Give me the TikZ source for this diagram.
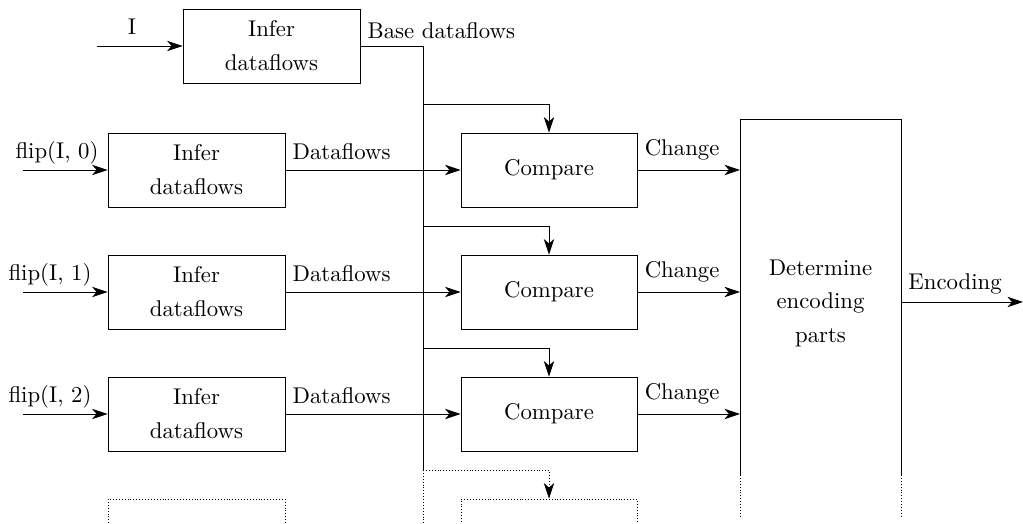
\documentclass[tikz,border=0pt]{standalone}
\usepackage{amsmath}
\usetikzlibrary{arrows.meta,positioning,calc}
\tikzstyle{infer} = [draw, shape=rectangle, minimum width=85.1pt, minimum height=35.6pt, align=center]
\tikzstyle{compare} = [draw, shape=rectangle, minimum width=84.7pt, minimum height=35.6pt]
\tikzstyle{Arrow} = [-{Stealth[length=7.5pt,width=5pt,inset=2.2pt]}]
\tikzstyle{flow} = [pos=0, above right, yshift=1.4pt]
\tikzstyle{inlabel} = [anchor=base]

\begin{document}
\begin{tikzpicture}[x=0.481pt,y=-0.481pt, every node/.style={font=\fontsize{10.95}{13.6}\selectfont}]
            \useasboundingbox (0,0) rectangle (1023,524);
            \clip (0,0) rectangle (1023,524);
            %%%%% Base dataflows %%%%%
            \node (base) [infer] at (271.5,46) {Infer\\[2.8pt]dataflows};
            \coordinate (inI) at (97,46);
            \draw [Arrow] (inI) -- (base);
            \node (lI) [inlabel] at (132,35) {I};
            \coordinate (bus) at (423,46);
            \draw (base) -- (bus) -- (bus |- 0,470);
            \node (lbase) [above right] at (base.east) {Base dataflows};
            \draw [densely dotted] (bus |- 0,470) -- (bus |- 0,530);
            %%%%% First row %%%%%
            \node (inf1) [infer] at (196.5,170) {Infer\\[2.8pt]dataflows};
            \node (cmp1) [compare] at (549,170) {Compare};
            \coordinate (in1) at (23,170);
            \draw [Arrow] (in1) -- (inf1);
            \node [inlabel] at (57,159) {flip(I, 0)};
            \draw [Arrow] (inf1) -- (cmp1) node [flow] {Dataflows};
            \draw [Arrow] (bus |- 0,104) -| (cmp1.north);
            %%%%% Second row %%%%%
            \node (inf2) [infer] at (196.5,292) {Infer\\[2.8pt]dataflows};
            \node (cmp2) [compare] at (549,292) {Compare};
            \coordinate (in2) at (23,292);
            \draw [Arrow] (in2) -- (inf2);
            \node [inlabel] at (50,281) {flip(I, 1)};
            \draw [Arrow] (inf2) -- (cmp2) node [flow] {Dataflows};
            \draw [Arrow] (bus |- 0,226) -| (cmp2.north);
            %%%%% Third row %%%%%
            \node (inf3) [infer] at (196.5,414) {Infer\\[2.8pt]dataflows};
            \node (cmp3) [compare] at (549,414) {Compare};
            \coordinate (in3) at (23,414);
            \draw [Arrow] (in3) -- (inf3);
            \node [inlabel] at (50,403) {flip(I, 2)};
            \draw [Arrow] (inf3) -- (cmp3) node [flow] {Dataflows};
            \draw [Arrow] (bus |- 0,348) -| (cmp3.north);
            %%%%% More rows %%%%%
            \node (inf4) [infer, densely dotted] at (196.5,536) {};
            \node (cmp4) [compare, densely dotted] at (549,536) {};
            \draw [Arrow, densely dotted] (bus |- 0,470) -| (cmp4.north);
            %%%%% Encoding %%%%%
            \coordinate (fl) at (740,119);
            \coordinate (fr) at (901,119);
            \draw (fl |- 0,475) -- (fl) -- (fr) -- (fr |- 0,475);
            \draw [densely dotted] (fl |- 0,475) -- (fl |- 0,517);
            \draw [densely dotted] (fr |- 0,475) -- (fr |- 0,517);
            \node (det) [align=center] at (820.5,303) {Determine\\[2.5pt]encoding\\[2.5pt]parts};
            \draw [Arrow] (cmp1) -- (cmp1 -| fl) node [flow] {Change};
            \draw [Arrow] (cmp2) -- (cmp2 -| fl) node [flow] {Change};
            \draw [Arrow] (cmp3) -- (cmp3 -| fl) node [flow] {Change};
            \coordinate (out) at (1023,302);
            \draw [Arrow] (fr |- out) -- (out) node [pos=0, above right] {Encoding};
        \end{tikzpicture}
\end{document}
